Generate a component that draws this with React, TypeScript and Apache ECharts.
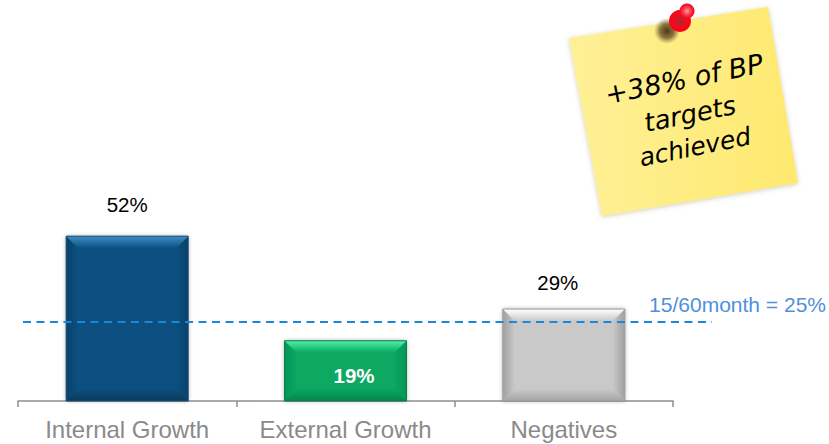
import React, { useEffect, useRef } from "react";
import * as echarts from "echarts";

const categories = ["Internal Growth", "External Growth", "Negatives"];
const shares = [52, 19, 29];
const benchmark = 25;
const benchmarkText = "15/60month = 25%";
const noteLines = ["+38% of BP", "targets", "achieved"];

// fill, highlight on the top facet, shade on the side and bottom facets, outline
const barFaces = [
  { fill: "#0b5080", light: "#3f8ec6", side: "#0a426a", bottom: "#083a5c", edge: "#1f4f74" },
  { fill: "#07a862", light: "#52f0a8", side: "#069458", bottom: "#06854d", edge: "#0a7a4a" },
  { fill: "#c9c9c9", light: "#ffffff", side: "#a0a0a0", bottom: "#a4a4a4", edge: "#9d9d9d" },
];

const FONT = '"Liberation Sans", Arial, sans-serif';
const BAR_WIDTH = 122;
const BEVEL = 12;

const valueLabels = [
  { position: "top", distance: 21, color: "#000000", fontWeight: "normal", offset: [0, 0] },
  { position: "inside", distance: 0, color: "#ffffff", fontWeight: "bold", offset: [8.5, 5] },
  { position: "top", distance: 16, color: "#000000", fontWeight: "normal", offset: [-6, 0] },
];

// Four bevelled facets laid over each bar, positioned from the value axis.
function renderBevel(params: any, api: any) {
  const idx = api.value(0);
  const face = barFaces[idx];
  const top = api.coord([idx, api.value(1)]);
  const base = api.coord([idx, 0]);
  const l = top[0] - BAR_WIDTH / 2;
  const r = top[0] + BAR_WIDTH / 2;
  const t = top[1];
  const b = base[1];
  const n = BEVEL;
  const ramp = (x0: number, y0: number, x1: number, y1: number, from: string, to: string) =>
    new echarts.graphic.LinearGradient(x0, y0, x1, y1, [
      { offset: 0, color: from },
      { offset: 1, color: to },
    ]);
  const facet = (points: number[][], fill: any) => ({
    type: "polygon",
    shape: { points },
    style: { fill },
  });
  return {
    type: "group",
    children: [
      facet([[l, t], [l + n, t + n], [l + n, b - n], [l, b]], ramp(0, 0, 1, 0, face.side, face.fill)),
      facet([[r, t], [r - n, t + n], [r - n, b - n], [r, b]], ramp(1, 0, 0, 0, face.side, face.fill)),
      facet([[l, b], [l + n, b - n], [r - n, b - n], [r, b]], ramp(0, 1, 0, 0, face.bottom, face.fill)),
      facet([[l, t], [r, t], [r - n, t + n], [l + n, t + n]], ramp(0, 0, 0, 1, face.light, face.fill)),
      {
        type: "rect",
        shape: { x: l, y: t, width: BAR_WIDTH, height: b - t },
        style: { fill: "none", stroke: face.edge, lineWidth: 1 },
      },
    ],
  };
}

function stickyNote() {
  return [
    {
      type: "polygon",
      z: 10,
      shape: { points: [[569, 38], [768, 7], [798, 183], [602, 216]] },
      style: {
        fill: new echarts.graphic.LinearGradient(0, 0, 1, 0, [
          { offset: 0, color: "#fff097" },
          { offset: 1, color: "#fee96f" },
        ]),
        shadowBlur: 5,
        shadowColor: "rgba(120,110,60,0.35)",
        shadowOffsetY: 1,
      },
    },
    ...noteLines.map((line, i) => ({
      type: "text",
      z: 11,
      x: [684, 690, 695][i],
      y: [79, 114, 147][i],
      rotation: 0.2,
      originX: 0,
      originY: 0,
      style: {
        text: line,
        fill: "#000000",
        font: `oblique ${[27, 26, 25][i]}px "DejaVu Sans", sans-serif`,
        align: "center",
        verticalAlign: "middle",
      },
    })),
    {
      type: "circle",
      z: 12,
      shape: { cx: 667, cy: 31, r: 13 },
      style: {
        fill: new echarts.graphic.RadialGradient(0.5, 0.5, 0.5, [
          { offset: 0, color: "rgba(70,45,15,0.95)" },
          { offset: 0.55, color: "rgba(90,65,30,0.7)" },
          { offset: 1, color: "rgba(120,100,60,0)" },
        ]),
      },
    },
    {
      type: "circle",
      z: 13,
      shape: { cx: 680, cy: 21, r: 11 },
      style: {
        fill: new echarts.graphic.RadialGradient(0.5, 0.5, 0.5, [
          { offset: 0, color: "#a82a2a" },
          { offset: 0.5, color: "#e81020" },
          { offset: 1, color: "#ff0018" },
        ]),
      },
    },
    {
      type: "circle",
      z: 14,
      shape: { cx: 687, cy: 11, r: 7.5 },
      style: {
        fill: new echarts.graphic.RadialGradient(0.5, 0.5, 0.5, [
          { offset: 0, color: "#ff9a9a" },
          { offset: 0.5, color: "#f84050" },
          { offset: 1, color: "#f5001c" },
        ]),
      },
    },
  ];
}

export default function App() {
  const ref = useRef<HTMLDivElement>(null);

  useEffect(() => {
    const chart = echarts.init(ref.current!, null, { renderer: "svg" });
    chart.setOption({
      animation: false,
      backgroundColor: "#ffffff",
      grid: { left: 18, top: 84, width: 655, height: 317, containLabel: false },
      xAxis: {
        type: "category",
        data: categories,
        axisLine: { lineStyle: { color: "#8f8f8f", width: 1.5 } },
        axisTick: { show: true, alignWithLabel: false, length: 6, lineStyle: { color: "#8f8f8f", width: 1.5 } },
        axisLabel: { color: "#8a8a8a", fontFamily: FONT, fontSize: 24, margin: 16, interval: 0 },
      },
      yAxis: { type: "value", min: 0, max: 100, show: false, splitLine: { show: false } },
      series: [
        {
          type: "bar",
          barWidth: BAR_WIDTH,
          z: 2,
          data: shares.map((value, i) => ({
            value,
            itemStyle: {
              color: barFaces[i].fill,
              shadowBlur: 4,
              shadowColor: "rgba(0,0,0,0.35)",
            },
            label: {
              show: true,
              formatter: "{c}%",
              fontFamily: FONT,
              fontSize: 20.5,
              ...valueLabels[i],
            },
          })),
          markLine: {
            silent: true,
            symbol: "none",
            z: 6,
            lineStyle: { color: "#1b87d8", type: [8, 5.5], width: 2 },
            label: {
              show: true,
              position: "end",
              formatter: benchmarkText,
              color: "#4f8fdb",
              fontFamily: FONT,
              fontSize: 21,
              align: "right",
              verticalAlign: "middle",
              offset: [109, -17],
            },
            data: [[{ x: 23, yAxis: benchmark }, { x: 712, yAxis: benchmark }]],
          },
        },
        {
          type: "custom",
          z: 3,
          coordinateSystem: "cartesian2d",
          renderItem: renderBevel,
          dimensions: [{ name: "slot", type: "number" }, { name: "share", type: "number" }],
          data: shares.map((value, i) => [i, value]),
          encode: { x: 0, y: 1 },
          silent: true,
        },
      ],
      graphic: { elements: stickyNote() },
    });
    return () => chart.dispose();
  }, []);

  return <div ref={ref} style={{ position: "absolute", left: 0, top: 0, width: 829, height: 444 }} />;
}
